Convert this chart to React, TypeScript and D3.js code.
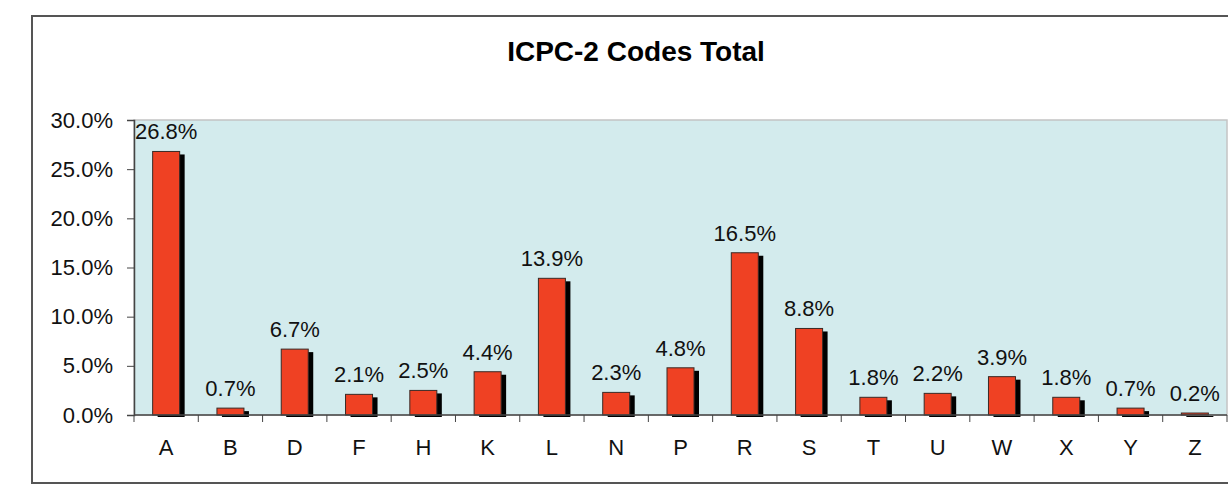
import React, { useEffect, useRef } from 'react';
import * as d3 from 'd3';

const CODES = ['A', 'B', 'D', 'F', 'H', 'K', 'L', 'N', 'P', 'R', 'S', 'T', 'U', 'W', 'X', 'Y', 'Z'];
const SHARES = [26.8, 0.7, 6.7, 2.1, 2.5, 4.4, 13.9, 2.3, 4.8, 16.5, 8.8, 1.8, 2.2, 3.9, 1.8, 0.7, 0.2];
const Y_TICKS = [0, 5, 10, 15, 20, 25, 30];
const TITLE = 'ICPC-2 Codes Total';

const WIDTH = 1228;
const HEIGHT = 488;
const PLOT = { left: 134, right: 1227, top: 120, bottom: 415 };
const FONT = 'Liberation Sans, Arial, sans-serif';

const App: React.FC = () => {
  const svgRef = useRef<SVGSVGElement>(null);

  useEffect(() => {
    if (!svgRef.current) return;
    const svg = d3.select(svgRef.current);
    svg.selectAll('*').remove();

    // outer frame
    svg.append('rect')
      .attr('x', 32).attr('y', 16)
      .attr('width', 1220).attr('height', 467)
      .attr('fill', '#fff')
      .attr('stroke', '#555')
      .attr('stroke-width', 2);

    svg.append('text')
      .attr('x', 636).attr('y', 61)
      .attr('text-anchor', 'middle')
      .attr('font-family', FONT)
      .attr('font-weight', 'bold')
      .attr('font-size', '28px')
      .attr('fill', '#000')
      .text(TITLE);

    const x = d3.scaleBand<string>()
      .domain(CODES)
      .range([PLOT.left, PLOT.right])
      .padding(0);

    const y = d3.scaleLinear()
      .domain([0, 30])
      .range([PLOT.bottom, PLOT.top]);

    // plot background
    svg.append('rect')
      .attr('x', PLOT.left).attr('y', PLOT.top)
      .attr('width', PLOT.right - PLOT.left)
      .attr('height', PLOT.bottom - PLOT.top)
      .attr('fill', '#d3ebed')
      .attr('stroke', '#c4c4c4')
      .attr('stroke-width', 1.5);

    const barW = x.bandwidth() * 0.42;
    const data = CODES.map((c, i) => ({ code: c, value: SHARES[i] }));

    // shadows
    svg.append('g').selectAll('rect')
      .data(data)
      .join('rect')
      .attr('x', d => (x(d.code) as number) + (x.bandwidth() - barW) / 2 + 5)
      .attr('y', d => y(d.value) + 3)
      .attr('width', barW)
      .attr('height', d => Math.max(0, PLOT.bottom - y(d.value) - 1))
      .attr('fill', '#000');

    // bars
    svg.append('g').selectAll('rect')
      .data(data)
      .join('rect')
      .attr('x', d => (x(d.code) as number) + (x.bandwidth() - barW) / 2)
      .attr('y', d => y(d.value))
      .attr('width', barW)
      .attr('height', d => PLOT.bottom - y(d.value))
      .attr('fill', '#ef4123')
      .attr('stroke', '#3a2a26')
      .attr('stroke-width', 1);

    // value labels
    svg.append('g').selectAll('text')
      .data(data)
      .join('text')
      .attr('x', d => (x(d.code) as number) + x.bandwidth() / 2)
      .attr('y', d => y(d.value) - 12)
      .attr('text-anchor', 'middle')
      .attr('font-family', FONT)
      .attr('font-size', '22px')
      .attr('fill', '#111')
      .text(d => `${d.value.toFixed(1)}%`);

    // y axis
    const yAxis = d3.axisLeft(y)
      .tickValues(Y_TICKS)
      .tickSize(7)
      .tickPadding(14)
      .tickFormat(d => `${(+d).toFixed(1)}%`);
    const gy = svg.append('g')
      .attr('transform', `translate(${PLOT.left},0)`)
      .call(yAxis);
    gy.select('.domain').attr('stroke', '#444').attr('stroke-width', 1.5);
    gy.selectAll('.tick line').attr('stroke', '#444');
    gy.selectAll('.tick text')
      .attr('font-family', FONT)
      .attr('font-size', '22px')
      .attr('fill', '#111');

    // x axis line + ticks at band edges
    const gx = svg.append('g');
    gx.append('line')
      .attr('x1', PLOT.left).attr('x2', PLOT.right)
      .attr('y1', PLOT.bottom).attr('y2', PLOT.bottom)
      .attr('stroke', '#444').attr('stroke-width', 1.5);
    const edges = [...CODES.map(c => x(c) as number), PLOT.right];
    gx.selectAll('line.edge')
      .data(edges)
      .join('line')
      .attr('class', 'edge')
      .attr('x1', d => d).attr('x2', d => d)
      .attr('y1', PLOT.bottom).attr('y2', PLOT.bottom + 7)
      .attr('stroke', '#444');
    gx.selectAll('text')
      .data(CODES)
      .join('text')
      .attr('x', d => (x(d) as number) + x.bandwidth() / 2)
      .attr('y', 455)
      .attr('text-anchor', 'middle')
      .attr('font-family', FONT)
      .attr('font-size', '22px')
      .attr('fill', '#111')
      .text(d => d);
  }, []);

  return (
    <svg
      ref={svgRef}
      width={WIDTH}
      height={HEIGHT}
      style={{ position: 'absolute', left: 0, top: 0, display: 'block', background: '#fff' }}
    />
  );
};

export default App;
